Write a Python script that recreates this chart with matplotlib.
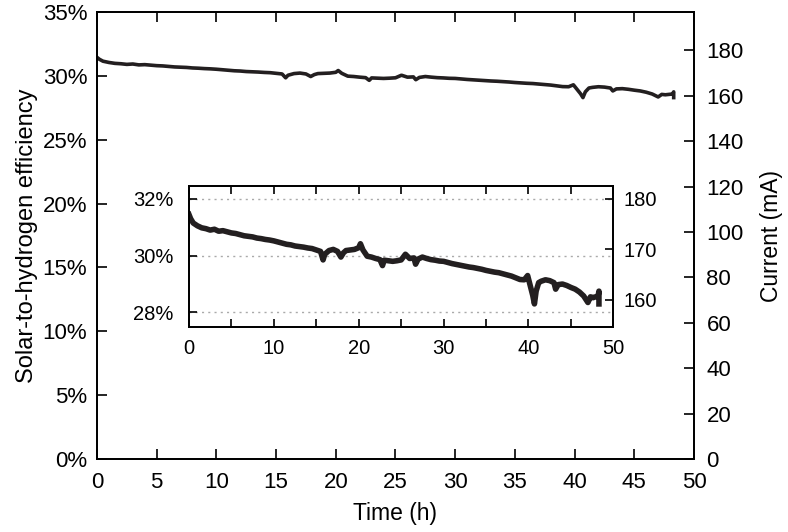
import numpy as np
import matplotlib
matplotlib.use("Agg")
import matplotlib.pyplot as plt
from matplotlib.ticker import MultipleLocator, FuncFormatter

plt.rcParams["font.family"] = ["Liberation Sans", "DejaVu Sans"]

# ── data ────────────────────────────────────────────────────────────────────
time_h = [0.0, 0.2, 0.5, 1.0, 1.5, 2.0, 2.5, 3.0, 3.5, 4.0, 4.5, 5.0, 5.5, 6.0,
          6.5, 7.0, 7.5, 8.0, 8.5, 9.0, 9.5, 10.0, 10.5, 11.0, 11.5, 12.0, 12.5,
          13.0, 13.5, 14.0, 14.5, 15.0, 15.5, 15.8, 16.0, 16.5, 17.0, 17.5, 17.9,
          18.2, 18.5, 19.0, 19.5, 20.0, 20.2, 20.5, 21.0, 21.5, 22.0, 22.5, 22.8,
          23.0, 23.5, 24.0, 24.5, 25.0, 25.5, 26.0, 26.5, 26.7, 27.0, 27.5, 28.0,
          28.5, 29.0, 29.5, 30.0, 30.5, 31.0, 31.5, 32.0, 32.5, 33.0, 33.5, 34.0,
          34.5, 35.0, 35.5, 36.0, 36.5, 37.0, 37.5, 38.0, 38.5, 39.0, 39.5, 39.9,
          40.2, 40.5, 40.7, 40.9, 41.2, 41.5, 42.0, 42.5, 43.0, 43.2, 43.5, 44.0,
          44.5, 45.0, 45.5, 46.0, 46.5, 47.0, 47.3, 47.6, 48.0, 48.2, 48.3, 48.3]
sth_eff = [31.45, 31.30, 31.15, 31.05, 30.98, 30.95, 30.90, 30.93, 30.86, 30.88,
           30.84, 30.80, 30.78, 30.74, 30.70, 30.68, 30.66, 30.62, 30.60, 30.57,
           30.55, 30.52, 30.48, 30.44, 30.40, 30.38, 30.34, 30.32, 30.30, 30.27,
           30.25, 30.20, 30.15, 29.85, 30.05, 30.18, 30.22, 30.15, 29.95, 30.10,
           30.18, 30.20, 30.22, 30.28, 30.42, 30.20, 29.98, 29.95, 29.90, 29.86,
           29.65, 29.84, 29.82, 29.80, 29.82, 29.85, 30.05, 29.90, 29.92, 29.70,
           29.88, 29.95, 29.90, 29.86, 29.84, 29.81, 29.80, 29.76, 29.72, 29.69,
           29.66, 29.63, 29.60, 29.58, 29.55, 29.52, 29.48, 29.45, 29.42, 29.40,
           29.36, 29.32, 29.28, 29.22, 29.16, 29.15, 29.30, 28.95, 28.60, 28.30,
           28.75, 29.05, 29.10, 29.15, 29.12, 29.05, 28.82, 28.98, 29.00, 28.95,
           28.88, 28.82, 28.72, 28.58, 28.35, 28.55, 28.52, 28.56, 28.58, 28.75,
           28.30]

# current axis is the same trace on a second scale: 32 % <-> 180 mA
MA_PER_PCT = 180 / 32

LINE = "#231f20"

fig = plt.figure(figsize=(7.88, 5.32), dpi=100)

# ── main axes ───────────────────────────────────────────────────────────────
ax = fig.add_axes([0.1231, 0.1372, 0.7576, 0.8402])
ax.plot(time_h, sth_eff, color=LINE, lw=2.6, solid_joinstyle="round")
ax.set_xlim(0, 50)
ax.set_ylim(0, 35)
ax.xaxis.set_major_locator(MultipleLocator(5))
ax.yaxis.set_major_locator(MultipleLocator(5))
ax.yaxis.set_major_formatter(FuncFormatter(lambda v, p: f"{v:.0f}%"))
ax.tick_params(direction="in", length=7, width=1.2, labelsize=16, pad=7,
               top=True, right=False)
ax.tick_params(axis="x", pad=9)
ax.set_xlabel("Time (h)", fontsize=16.5, labelpad=7)
ax.set_ylabel("Solar-to-hydrogen efficiency", fontsize=17, labelpad=3)

axr = ax.twinx()
axr.set_ylim(0, 35 * MA_PER_PCT)
axr.yaxis.set_major_locator(MultipleLocator(20))
axr.tick_params(direction="in", length=7, width=1.2, labelsize=16, pad=9)
axr.set_ylabel("Current (mA)", fontsize=16.5, labelpad=12)

for a in (ax, axr):
    for s in a.spines.values():
        s.set_linewidth(1.3)

# ── inset ───────────────────────────────────────────────────────────────────
ins = fig.add_axes([0.2398, 0.3844, 0.5386, 0.2669])
ins.plot(time_h, sth_eff, color=LINE, lw=4.0, solid_joinstyle="round")
ins.set_xlim(0, 50)
ins.set_ylim(27.47, 32.47)
ins.set_yticks([28, 30, 32])
ins.yaxis.set_major_formatter(FuncFormatter(lambda v, p: f"{v:.0f}%"))
ins.xaxis.set_major_locator(MultipleLocator(10))
ins.xaxis.set_minor_locator(MultipleLocator(5))
ins.tick_params(which="both", direction="in", length=6, width=1.2, labelsize=14.5,
                top=True, right=False)
ins.tick_params(axis="y", pad=11)
ins.tick_params(axis="x", pad=8)
for y in [28, 30, 32]:
    ins.axhline(y, color="#aaaaaa", lw=1, ls=(0, (1.5, 3)), zorder=0)

insr = ins.twinx()
insr.set_ylim(27.47 * MA_PER_PCT, 32.47 * MA_PER_PCT)
insr.set_yticks([160, 170, 180])
insr.tick_params(direction="in", length=6, width=1.2, labelsize=14.5, pad=7)

for a in (ins, insr):
    for s in a.spines.values():
        s.set_linewidth(1.3)

fig.savefig("out.png", dpi=100)
